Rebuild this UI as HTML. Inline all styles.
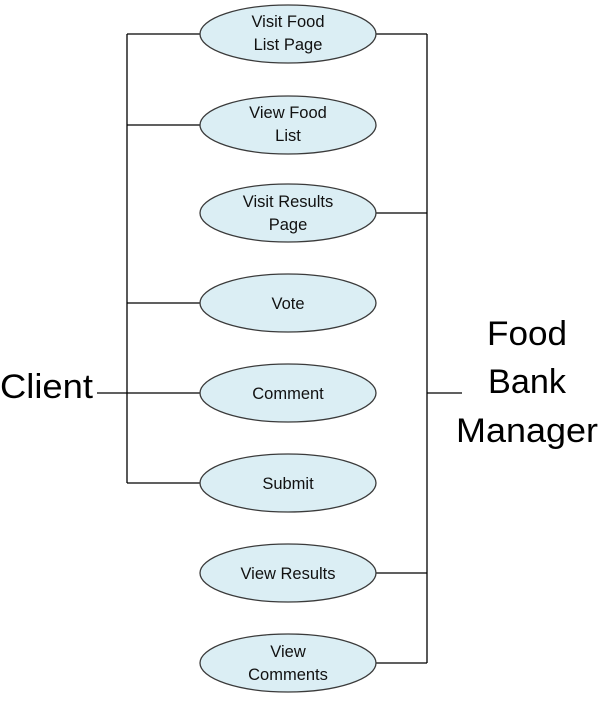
<!DOCTYPE html>
<html><head><meta charset="utf-8"><style>html,body{margin:0;padding:0;background:#fff}</style></head>
<body>
<svg width="600" height="699" viewBox="0 0 600 699" xmlns="http://www.w3.org/2000/svg" font-family="Liberation Sans, sans-serif">
<g stroke="#000" stroke-width="1.3" fill="none">
<line x1="127" y1="34" x2="127" y2="483"/>
<line x1="127" y1="34" x2="200" y2="34"/>
<line x1="127" y1="125" x2="200" y2="125"/>
<line x1="127" y1="303" x2="200" y2="303"/>
<line x1="127" y1="483" x2="200" y2="483"/>
<line x1="97" y1="393" x2="200" y2="393"/>
<line x1="427" y1="34" x2="427" y2="663"/>
<line x1="376" y1="34" x2="427" y2="34"/>
<line x1="376" y1="213" x2="427" y2="213"/>
<line x1="376" y1="573" x2="427" y2="573"/>
<line x1="376" y1="663" x2="427" y2="663"/>
<line x1="427" y1="393" x2="462" y2="393"/>
</g>
<g fill="#dbeef4" stroke="#3a3a3a" stroke-width="1.3">
<ellipse cx="288" cy="34" rx="88" ry="29"/>
<ellipse cx="288" cy="125" rx="88" ry="29"/>
<ellipse cx="288" cy="213" rx="88" ry="29"/>
<ellipse cx="288" cy="303" rx="88" ry="29"/>
<ellipse cx="288" cy="393" rx="88" ry="29"/>
<ellipse cx="288" cy="483" rx="88" ry="29"/>
<ellipse cx="288" cy="573" rx="88" ry="29"/>
<ellipse cx="288" cy="663" rx="88" ry="29"/>
</g>
<g font-size="16.5" text-anchor="middle" fill="#111">
<text x="288" y="27">Visit Food</text><text x="288" y="50">List Page</text>
<text x="288" y="118">View Food</text><text x="288" y="141">List</text>
<text x="288" y="207">Visit Results</text><text x="288" y="230">Page</text>
<text x="288" y="309">Vote</text>
<text x="288" y="399">Comment</text>
<text x="288" y="489">Submit</text>
<text x="288" y="579">View Results</text>
<text x="288" y="657">View</text><text x="288" y="680">Comments</text>
</g>
<g font-size="34" fill="#000">
<text x="0" y="398" textLength="93" lengthAdjust="spacingAndGlyphs">Client</text>
<text x="487" y="345" textLength="80" lengthAdjust="spacingAndGlyphs">Food</text>
<text x="488" y="393" textLength="78" lengthAdjust="spacingAndGlyphs">Bank</text>
<text x="456" y="442" textLength="142" lengthAdjust="spacingAndGlyphs">Manager</text>
</g>
</svg>
</body></html>
